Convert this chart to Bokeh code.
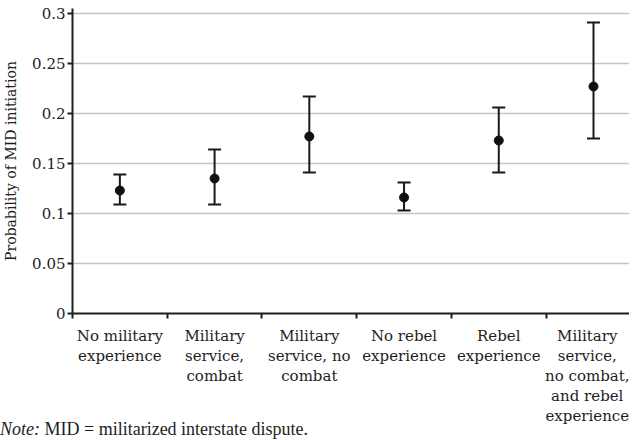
from bokeh.plotting import figure
from bokeh.layouts import column
from bokeh.models import ColumnDataSource, FixedTicker, Whisker, TeeHead, Range1d, Div
from bokeh.embed import file_html
from bokeh.resources import INLINE

categories = ["No military\nexperience", "Military\nservice,\ncombat", "Military\nservice, no\ncombat",
              "No rebel\nexperience", "Rebel\nexperience",
              "Military\nservice,\nno combat,\nand rebel\nexperience"]
prob = [0.123, 0.135, 0.177, 0.116, 0.173, 0.227]
lower = [0.109, 0.109, 0.141, 0.103, 0.141, 0.175]
upper = [0.139, 0.164, 0.217, 0.131, 0.206, 0.291]
y_ticks = [0, 0.05, 0.1, 0.15, 0.2, 0.25, 0.3]
y_tick_labels = ["0", "0.05", "0.1", "0.15", "0.2", "0.25", "0.3"]

TXT = "#1e1e1e"
FONT = "DejaVu Serif"

xs = list(range(len(categories)))
src = ColumnDataSource(dict(x=xs, prob=prob, lower=lower, upper=upper))

p = figure(frame_width=557, frame_height=305, output_backend="svg", toolbar_location=None,
           x_range=Range1d(-0.5, 5.38), y_range=Range1d(0, 0.305),
           min_border_left=70, min_border_right=0, min_border_top=8, min_border_bottom=0)
p.outline_line_color = None
p.background_fill_color = "white"

xax = p.xaxis[0]
yax = p.yaxis[0]

# x axis
xax.ticker = FixedTicker(ticks=xs, minor_ticks=[i - 0.5 for i in range(len(categories) + 1)])
xax.major_label_overrides = {i: lab for i, lab in zip(xs, categories)}
xax.major_tick_out = 0
xax.major_tick_in = 0
xax.minor_tick_out = 5
xax.minor_tick_in = 0
xax.minor_tick_line_width = 2
xax.axis_line_width = 2
xax.axis_line_color = TXT
xax.minor_tick_line_color = TXT
xax.major_label_text_font = FONT
xax.major_label_text_font_size = "15px"
xax.major_label_text_color = TXT
xax.major_label_text_line_height = 1.12
xax.major_label_standoff = 8

# y axis
yax.ticker = FixedTicker(ticks=y_ticks, minor_ticks=[])
yax.major_label_overrides = {t: l for t, l in zip(y_ticks, y_tick_labels)}
yax.major_tick_out = 5
yax.major_tick_in = 0
yax.major_tick_line_width = 2
yax.major_tick_line_color = TXT
yax.axis_line_width = 2
yax.axis_line_color = TXT
yax.major_label_text_font = FONT
yax.major_label_text_font_size = "15px"
yax.major_label_text_color = TXT
yax.major_label_standoff = 2
yax.axis_label = "Probability of MID initiation"
yax.axis_label_text_font = FONT
yax.axis_label_text_font_size = "14px"
yax.axis_label_text_font_style = "normal"
yax.axis_label_text_color = TXT
yax.axis_label_standoff = 10

p.xgrid.grid_line_color = None
p.ygrid.grid_line_color = "#c4c4c4"
p.ygrid.grid_line_width = 1.7

w = Whisker(source=src, base="x", upper="upper", lower="lower", dimension="height",
            line_color="#1a1a1a", line_width=2,
            upper_head=TeeHead(size=13, line_width=2, line_color="#1a1a1a"),
            lower_head=TeeHead(size=13, line_width=2, line_color="#1a1a1a"))
p.add_layout(w)
p.scatter("x", "prob", source=src, size=9, color="#111111")

note = Div(text="<i>Note:</i> MID = militarized interstate dispute.",
           width=400, height=16, margin=(-7, 0, 0, 0),
           styles={"font-family": "'Liberation Serif', serif", "font-size": "18px",
                   "line-height": "16px", "color": TXT, "white-space": "nowrap"})

layout = column(p, note, spacing=0)
open("out.html", "w").write(file_html(layout, INLINE))
